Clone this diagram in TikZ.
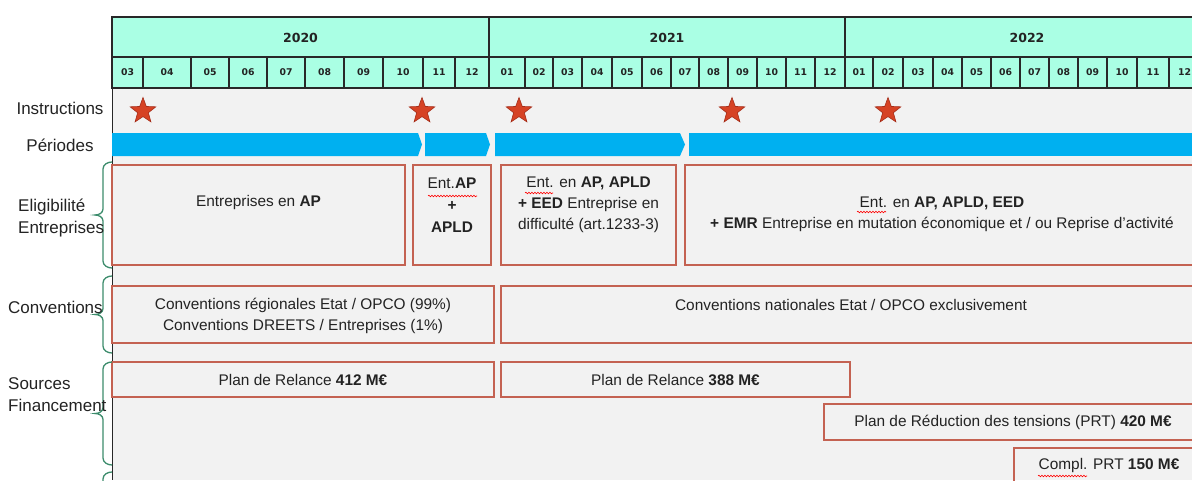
\documentclass[tikz,border=0pt]{standalone}
\usepackage{fontspec}
\setmainfont{Liberation Sans}
\newfontfamily\hdrfont{DejaVu Sans}
\usetikzlibrary{shapes.geometric,decorations.pathreplacing,decorations.pathmorphing}

\definecolor{mint}{RGB}{170,255,228}
\definecolor{bggrey}{RGB}{242,242,242}
\definecolor{barblue}{RGB}{0,176,240}
\definecolor{boxred}{RGB}{196,98,82}
\definecolor{bracegreen}{RGB}{60,140,108}
\definecolor{starred}{RGB}{214,66,36}
\definecolor{stardark}{RGB}{165,45,25}
\definecolor{gridline}{RGB}{40,40,40}
\definecolor{txt}{RGB}{35,35,35}

\begin{document}
\begin{tikzpicture}[x=1pt,y=-1pt,
  hdr/.style={draw=gridline,line width=1.4pt,fill=mint},
  yearlbl/.style={font=\hdrfont\bfseries\fontsize{12.5}{15}\selectfont,text=txt},
  monthlbl/.style={font=\hdrfont\bfseries\fontsize{9.3}{11}\selectfont,text=txt},
  starnode/.style={star,star points=5,star point ratio=2.4,minimum size=27pt,inner sep=0pt,fill=starred,draw=stardark,line width=0.6pt},
  periodbar/.style={fill=barblue},
  ebox/.style={draw=boxred,line width=1.6pt,rectangle,inner sep=0pt},
  btxt/.style={font=\fontsize{15.4}{21}\selectfont,text=txt,align=center,inner sep=0pt},
  lbl/.style={font=\fontsize{17}{21.5}\selectfont,text=txt,inner sep=0pt},
  brc/.style={draw=bracegreen,line width=1.3pt},
  squig/.style={decorate,decoration={snake,amplitude=0.8pt,segment length=3pt},draw=red,line width=0.6pt}
]
\useasboundingbox (0,0) rectangle (1192,480);
\clip (0,0) rectangle (1192,480);
\fill[white] (0,0) rectangle (1192,480);
\fill[bggrey] (112,88) rectangle (1210,480);

% header: years
\draw[hdr] (112,17) rectangle (489,57);
\draw[hdr] (489,17) rectangle (845,57);
\draw[hdr] (845,17) rectangle (1210,57);
\node[yearlbl] (y2020) at (300.5,37.5) {2020};
\node[yearlbl] (y2021) at (667,37.5) {2021};
\node[yearlbl] (y2022) at (1027,37.5) {2022};

% header: months
\foreach \a/\b/\m [count=\i] in {112/143/03,143/191/04,191/229/05,229/267/06,267/305/07,305/344/08,344/383/09,383/423/10,423/455/11,455/489/12,
  489/525/01,525/553/02,553/582/03,582/612/04,612/642/05,642/671/06,671/699/07,699/728/08,728/757/09,757/786/10,786/815/11,815/845/12,
  845/873/01,873/903/02,903/933/03,933/962/04,962/991/05,991/1020/06,1020/1049/07,1049/1078/08,1078/1107/09,1107/1137/10,1137/1169/11,1169/1200/12}
{
  \draw[hdr] (\a,57) rectangle (\b,88);
  \node[monthlbl] (m\i) at ({(\a+\b)/2},72.5) {\m};
}

% left border of the chart area
\draw[gridline,line width=1pt] (112,88) -- (112,480);

% instructions (stars)
\node[starnode] (s1) at (143,111) {};
\node[starnode] (s2) at (422,111) {};
\node[starnode] (s3) at (519,111) {};
\node[starnode] (s4) at (732,111) {};
\node[starnode] (s5) at (888,111) {};

% periods
\fill[periodbar] (112,133) -- (418,133) -- (422,144.5) -- (418,156) -- (112,156) -- cycle;
\fill[periodbar] (425,133) -- (486,133) -- (490,144.5) -- (486,156) -- (425,156) -- cycle;
\fill[periodbar] (495,133) -- (680,133) -- (685,144.5) -- (680,156) -- (495,156) -- cycle;
\fill[periodbar] (689,133) -- (1210,133) -- (1210,156) -- (689,156) -- cycle;

% eligibility boxes
\node[ebox,minimum width=293pt,minimum height=100pt] (e1) at (258.5,215) {};
\node[ebox,minimum width=78pt,minimum height=100pt] (e2) at (452,215) {};
\node[ebox,minimum width=175pt,minimum height=100pt] (e3) at (588.5,215) {};
\node[ebox,minimum width=515pt,minimum height=100pt] (e4) at (942.5,215) {};
\node[btxt] (te1) at (258.5,203) {Entreprises en \textbf{AP}};
\node[btxt,font=\fontsize{15.4}{22}\selectfont] (te2) at (452,205.5) {Ent.\textbf{AP}\\\textbf{+}\\\textbf{APLD}};
\node[btxt] (te3) at (588.5,204.5) {Ent. en \textbf{AP, APLD}\\\textbf{+ EED} Entreprise en\\difficulté (art.1233-3)};
\node[btxt] (te4) at (942,214) {Ent. en \textbf{AP, APLD, EED}\\\textbf{+ EMR} Entreprise en mutation économique et / ou Reprise d’activité};

% conventions
\node[ebox,minimum width=382pt,minimum height=57pt] (c1) at (303,314.5) {};
\node[ebox,minimum width=699pt,minimum height=57pt] (c2) at (850.5,314.5) {};
\node[btxt] (tc1) at (303,316) {Conventions régionales Etat / OPCO (99\%)\\Conventions DREETS / Entreprises (1\%)};
\node[btxt] (tc2) at (851,305) {Conventions nationales Etat / OPCO exclusivement};

% sources de financement
\node[ebox,minimum width=382pt,minimum height=35pt] (f1) at (303,379.5) {};
\node[ebox,minimum width=349pt,minimum height=35pt] (f2) at (675.5,379.5) {};
\node[ebox,minimum width=376pt,minimum height=36pt] (f3) at (1012,422) {};
\node[ebox,minimum width=190pt,minimum height=42pt] (f4) at (1109,469) {};
\node[btxt] (tf1) at (303,380) {Plan de Relance \textbf{412 M€}};
\node[btxt] (tf2) at (675.5,380) {Plan de Relance \textbf{388 M€}};
\node[btxt] (tf3) at (1013,422.5) {Plan de Réduction des tensions (PRT) \textbf{420 M€}};
\node[btxt] (tf4) at (1109,465.5) {Compl. PRT \textbf{150 M€}};

% spell-check squiggles
\coordinate (q1a) at (428,196); \coordinate (q1b) at (477,196);
\coordinate (q2a) at (525,193); \coordinate (q2b) at (553,193);
\coordinate (q3a) at (857,212); \coordinate (q3b) at (886,212);
\coordinate (q4a) at (1038,476); \coordinate (q4b) at (1087,476);
\draw[squig] (q1a) -- (q1b);
\draw[squig] (q2a) -- (q2b);
\draw[squig] (q3a) -- (q3b);
\draw[squig] (q4a) -- (q4b);

% braces (top, middle, bottom)
\foreach \t/\mid/\b in {162/215/268, 276/314.5/353, 362/413.5/465, 472/520/568}
{
  \draw[brc] (112,\t) to[out=180,in=90] (103,\t+7) -- (103,\mid-6)
    to[out=270,in=0] (95,\mid) to[out=0,in=90] (103,\mid+6)
    -- (103,\b-7) to[out=270,in=180] (112,\b);
}

% row labels
\node[lbl] (lInstr) at (60,108.5) {Instructions};
\node[lbl] (lPer) at (60,145.5) {Périodes};
\node[lbl,anchor=west,align=left] (lElig) at (18,218) {Eligibilité\\Entreprises};
\node[lbl,anchor=west] (lConv) at (8,307.5) {Conventions};
\node[lbl,anchor=west,align=left] (lSrc) at (8,394.5) {Sources\\Financement};
\end{tikzpicture}
\end{document}
